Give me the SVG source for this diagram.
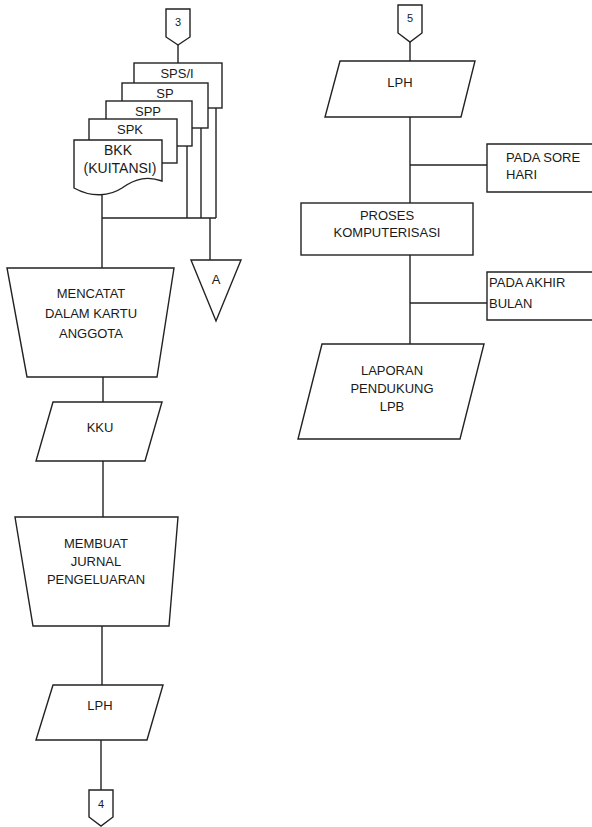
<svg xmlns="http://www.w3.org/2000/svg" width="592" height="827" viewBox="0 0 592 827">
  <style>
    .shape { fill: #ffffff; stroke: #222222; stroke-width: 1.4; stroke-linejoin: miter; }
    .wire { fill: none; stroke: #222222; stroke-width: 1.4; }
    text { font-family: "Liberation Sans", Arial, sans-serif; font-size: 13px; fill: #1a1a1a; text-anchor: middle; }
    text.left { text-anchor: start; }
    text.big { font-size: 14px; }
    text.small { font-size: 11px; }
  </style>
  <rect width="592" height="827" fill="#ffffff"/>

  <!-- connectors -->
  <g id="connectors">
    <line class="wire" x1="178" y1="45" x2="178" y2="63"/>
    <line class="wire" x1="102" y1="195" x2="102" y2="268"/>
    <line class="wire" x1="187" y1="146" x2="187" y2="218"/>
    <line class="wire" x1="201" y1="128" x2="201" y2="218"/>
    <line class="wire" x1="216" y1="108" x2="216" y2="218"/>
    <line class="wire" x1="102" y1="218" x2="216" y2="218"/>
    <line class="wire" x1="210" y1="218" x2="210" y2="260"/>
    <line class="wire" x1="103" y1="377" x2="103" y2="402"/>
    <line class="wire" x1="103" y1="461" x2="103" y2="517"/>
    <line class="wire" x1="102" y1="626" x2="102" y2="685"/>
    <line class="wire" x1="101" y1="740" x2="101" y2="790"/>
    <line class="wire" x1="410" y1="42" x2="410" y2="61"/>
    <line class="wire" x1="410" y1="117" x2="410" y2="203"/>
    <line class="wire" x1="410" y1="165" x2="487" y2="165"/>
    <line class="wire" x1="410" y1="255" x2="410" y2="344"/>
    <line class="wire" x1="410" y1="303" x2="487" y2="303" stroke-width="2"/>
  </g>

  <!-- off-page connector 3 -->
  <g id="conn3">
    <path class="shape" d="M166,9 H190 V37 L178,45 L166,37 Z"/>
    <text class="small" x="178" y="26">3</text>
  </g>

  <!-- stacked documents -->
  <g id="doc-spsi">
    <rect class="shape" x="134" y="63" width="88" height="45"/>
    <text x="177" y="78">SPS/I</text>
  </g>
  <g id="doc-sp">
    <rect class="shape" x="122" y="83" width="86" height="45"/>
    <text x="165" y="98">SP</text>
  </g>
  <g id="doc-spp">
    <rect class="shape" x="106" y="101" width="86" height="45"/>
    <text x="148" y="116">SPP</text>
  </g>
  <g id="doc-spk">
    <rect class="shape" x="89" y="119" width="88" height="44"/>
    <text x="130" y="134">SPK</text>
  </g>
  <g id="doc-bkk">
    <path class="shape" d="M74,140 H162 V181 C148,176 136,178 122,188 C110,196 92,198 74,188 Z"/>
    <text class="big" x="118" y="155">BKK</text>
    <text class="big" x="120" y="173">(KUITANSI)</text>
  </g>

  <!-- off-page connector A -->
  <g id="conn-a">
    <path class="shape" d="M191,260 H241 L216,321 Z"/>
    <text x="216" y="284" font-size="12">A</text>
  </g>

  <!-- manual operation: record in member card -->
  <g id="mencatat">
    <path class="shape" d="M7,268 H174 L157,377 H27 Z"/>
    <text x="91" y="298">MENCATAT</text>
    <text x="91" y="318">DALAM KARTU</text>
    <text x="91" y="338">ANGGOTA</text>
  </g>

  <g id="kku">
    <path class="shape" d="M53,402 H162 L145,461 H36 Z"/>
    <text x="100" y="432">KKU</text>
  </g>

  <g id="membuat">
    <path class="shape" d="M15,517 H178 L169,626 H33 Z"/>
    <text x="96" y="548">MEMBUAT</text>
    <text x="96" y="566">JURNAL</text>
    <text x="96" y="584">PENGELUARAN</text>
  </g>

  <g id="lph-left">
    <path class="shape" d="M53,685 H163 L147,740 H36 Z"/>
    <text x="100" y="710">LPH</text>
  </g>

  <!-- off-page connector 4 -->
  <g id="conn4">
    <path class="shape" d="M89,790 H113 V817 L101,826 L89,817 Z"/>
    <text class="small" x="101" y="808">4</text>
  </g>

  <!-- right column -->
  <g id="conn5">
    <path class="shape" d="M398,5 H422 V33 L410,42 L398,33 Z"/>
    <text class="small" x="410" y="22">5</text>
  </g>

  <g id="lph-right">
    <path class="shape" d="M340,61 H475 L461,117 H325 Z"/>
    <text x="400" y="87">LPH</text>
  </g>

  <g id="sore">
    <path class="shape" d="M594,144 H487 V192 H594"/>
    <text class="left" x="506" y="162">PADA SORE</text>
    <text class="left" x="506" y="179">HARI</text>
  </g>

  <g id="proses">
    <rect class="shape" x="301" y="203" width="172" height="52"/>
    <text x="387" y="220">PROSES</text>
    <text x="387" y="237">KOMPUTERISASI</text>
  </g>

  <g id="akhir">
    <path class="shape" d="M594,272 H487 V320 H594"/>
    <text class="left" x="489" y="287">PADA AKHIR</text>
    <text class="left" x="489" y="308">BULAN</text>
  </g>

  <g id="laporan">
    <path class="shape" d="M322,344 H484 L460,439 H298 Z"/>
    <text x="392" y="375">LAPORAN</text>
    <text x="392" y="393">PENDUKUNG</text>
    <text x="392" y="411">LPB</text>
  </g>
</svg>
